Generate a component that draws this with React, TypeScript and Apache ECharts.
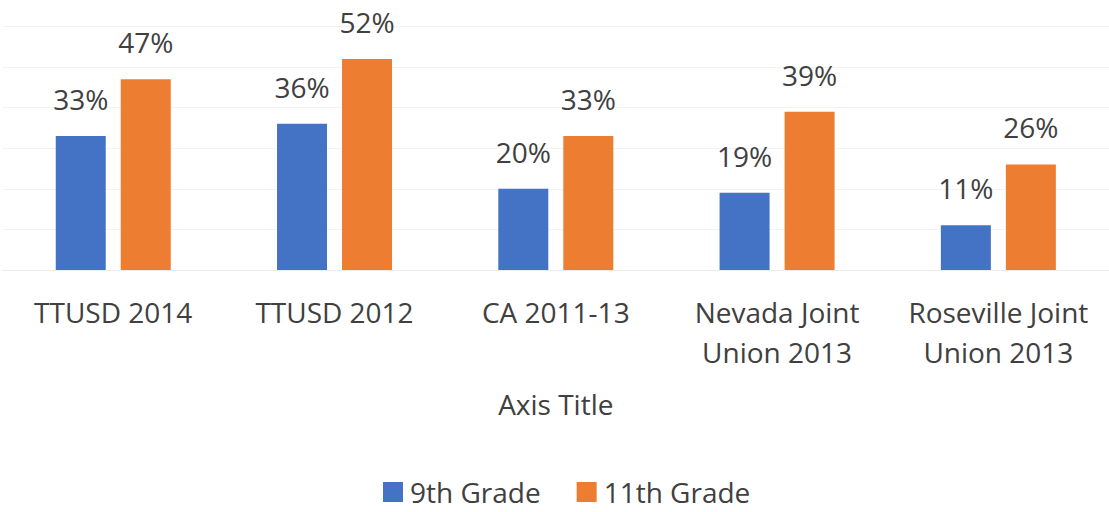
import React, { useEffect, useRef } from "react";
import * as echarts from "echarts";

const categories = [
  "TTUSD 2014",
  "TTUSD 2012",
  "CA 2011-13",
  "Nevada Joint\nUnion 2013",
  "Roseville Joint\nUnion 2013",
];
const ninthGrade = [33, 36, 20, 19, 11];
const eleventhGrade = [47, 52, 33, 39, 26];
const seriesNames = ["9th Grade", "11th Grade"];

const FONT = "'Open Sans', 'Noto Sans', sans-serif";
const TEXT = "#404040";

export default function App() {
  const ref = useRef<HTMLDivElement>(null);
  useEffect(() => {
    if (!ref.current) return;
    const chart = echarts.init(ref.current, null, { renderer: "svg" });
    const label = {
      show: true,
      position: "top",
      distance: 23,
      formatter: "{c}%",
      color: TEXT,
      fontSize: 28,
      fontFamily: FONT,
    };
    chart.setOption({
      animation: false,
      backgroundColor: "#ffffff",
      textStyle: { fontFamily: FONT },
      grid: { left: 2.6, top: 26.4, width: 1114.6, height: 243.6, containLabel: false },
      xAxis: {
        type: "category",
        data: categories,
        name: "Axis Title",
        nameLocation: "middle",
        nameGap: 120,
        nameTextStyle: { color: TEXT, fontSize: 28, fontFamily: FONT },
        axisLine: { show: true, lineStyle: { color: "#ececec", width: 1 } },
        axisTick: { show: false },
        axisLabel: {
          interval: 0,
          margin: 22,
          color: TEXT,
          fontSize: 28,
          lineHeight: 40,
          fontFamily: FONT,
        },
      },
      yAxis: {
        type: "value",
        min: 0,
        max: 60,
        interval: 10,
        axisLabel: { show: false },
        axisLine: { show: false },
        axisTick: { show: false },
        splitLine: { show: true, lineStyle: { color: "#f3f3f3", width: 1 } },
      },
      legend: {
        data: seriesNames,
        top: 473,
        left: 378,
        itemWidth: 20,
        itemHeight: 20,
        itemGap: 36,
        icon: "rect",
        textStyle: { color: TEXT, fontSize: 28, fontFamily: FONT, padding: [0, 0, 0, 2] },
      },
      series: [
        {
          name: seriesNames[0],
          type: "bar",
          data: ninthGrade,
          barWidth: 50,
          barGap: "30%",
          itemStyle: { color: "#4472C4" },
          label,
        },
        {
          name: seriesNames[1],
          type: "bar",
          data: eleventhGrade,
          barWidth: 50,
          barGap: "30%",
          itemStyle: { color: "#ED7D31" },
          label,
        },
      ],
    });
    return () => chart.dispose();
  }, []);
  return (
    <div
      ref={ref}
      style={{ position: "absolute", left: 0, top: 0, width: 1109, height: 512 }}
    />
  );
}
